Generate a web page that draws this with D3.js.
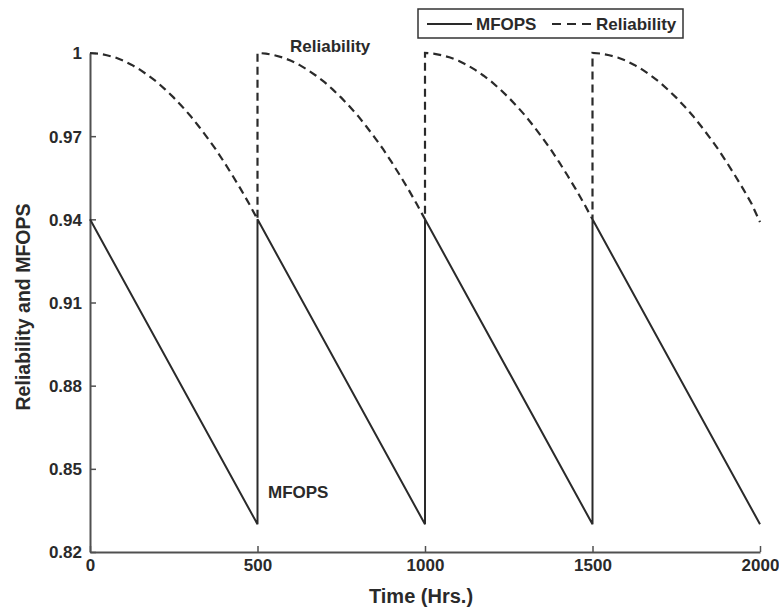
<!DOCTYPE html>
<html>
<head>
<meta charset="utf-8">
<script src="https://cdn.jsdelivr.net/npm/d3@7"></script>
<style>
  html, body { margin: 0; padding: 0; background: #fff; }
  svg { display: block; font-family: "Liberation Sans", Arial, sans-serif; }
</style>
</head>
<body>
<svg id="chart" width="779" height="609"></svg>
<script>
// ---- data ----
const xTicks = [0, 500, 1000, 1500, 2000];
const yTicks = [0.82, 0.85, 0.88, 0.91, 0.94, 0.97, 1];
const yTickLabels = ["0.82", "0.85", "0.88", "0.91", "0.94", "0.97", "1"];

const reliabilityHours = [
  0,25,50,75,100,125,150,175,200,225,250,275,300,325,350,375,400,425,450,475,500,
  500,525,550,575,600,625,650,675,700,725,750,775,800,825,850,875,900,925,950,975,1000,
  1000,1025,1050,1075,1100,1125,1150,1175,1200,1225,1250,1275,1300,1325,1350,1375,1400,1425,1450,1475,1500,
  1500,1525,1550,1575,1600,1625,1650,1675,1700,1725,1750,1775,1800,1825,1850,1875,1900,1925,1950,1975,2000
];
const reliabilityValues = [
  1.0000,0.9998,0.9992,0.9984,0.9972,0.9957,0.9939,0.9918,0.9895,0.9868,0.9839,0.9807,0.9773,0.9735,0.9695,0.9653,0.9607,0.9559,0.9509,0.9456,0.9400,
  1.0000,0.9998,0.9992,0.9984,0.9972,0.9957,0.9939,0.9918,0.9895,0.9868,0.9839,0.9807,0.9773,0.9735,0.9695,0.9653,0.9607,0.9559,0.9509,0.9456,0.9400,
  1.0000,0.9998,0.9992,0.9984,0.9972,0.9957,0.9939,0.9918,0.9895,0.9868,0.9839,0.9807,0.9773,0.9735,0.9695,0.9653,0.9607,0.9559,0.9509,0.9456,0.9400,
  1.0000,0.9998,0.9992,0.9984,0.9972,0.9957,0.9939,0.9918,0.9895,0.9868,0.9839,0.9807,0.9773,0.9735,0.9695,0.9653,0.9607,0.9559,0.9509,0.9456,0.9390
];

const mfopsHours  = [0, 500, 500, 1000, 1000, 1500, 1500, 2000];
const mfopsValues = [0.94, 0.83, 0.94, 0.83, 0.94, 0.83, 0.94, 0.83];

const seriesNames = ["MFOPS", "Reliability"];

// ---- layout ----
const svg = d3.select("#chart");
const x = d3.scaleLinear().domain([0, 2000]).range([90, 760]);
const y = d3.scaleLinear().domain([0.82, 1]).range([552, 53]);
const ink = "#2a2a2a";

// axes (left and bottom only, inward ticks)
const gx = svg.append("g").attr("transform", `translate(0,${y(0.82)})`)
  .call(d3.axisBottom(x).tickValues(xTicks).tickFormat(d3.format("d"))
    .tickSizeInner(-6).tickSizeOuter(0).tickPadding(7));
const gy = svg.append("g").attr("transform", `translate(${x(0)},0)`)
  .call(d3.axisLeft(y).tickValues(yTicks).tickFormat((d, i) => yTickLabels[i])
    .tickSizeInner(-6).tickSizeOuter(0).tickPadding(8));

[gx, gy].forEach(g => {
  g.select(".domain").attr("stroke", "#505050").attr("stroke-width", 2);
  g.selectAll(".tick line").attr("stroke", "#505050").attr("stroke-width", 1.5);
  g.selectAll(".tick text").attr("fill", ink).attr("font-size", 17).attr("font-weight", "bold")
    .attr("font-family", "'Liberation Sans', Arial, sans-serif");
});
gy.selectAll(".tick text").attr("dy", "0.35em");

// series
const line = d3.line().x(d => x(d[0])).y(d => y(d[1]));
const relData = reliabilityHours.map((h, i) => [h, reliabilityValues[i]]);
const mfData = mfopsHours.map((h, i) => [h, mfopsValues[i]]);

svg.append("path").datum(mfData).attr("d", line)
  .attr("fill", "none").attr("stroke", ink).attr("stroke-width", 2);
svg.append("path").datum(relData).attr("d", line)
  .attr("fill", "none").attr("stroke", ink).attr("stroke-width", 2.2)
  .attr("stroke-dasharray", "8,5");

// axis titles
svg.append("text").attr("x", 421).attr("y", 603).attr("text-anchor", "middle")
  .attr("font-size", 20).attr("font-weight", "bold").attr("fill", ink).text("Time (Hrs.)");
svg.append("text").attr("transform", "translate(30,307) rotate(-90)").attr("text-anchor", "middle")
  .attr("font-size", 19.5).attr("font-weight", "bold").attr("fill", ink).text("Reliability and MFOPS");

// annotations
svg.append("text").attr("x", 290).attr("y", 52).attr("font-size", 17).attr("font-weight", "bold")
  .attr("fill", ink).text("Reliability");
svg.append("text").attr("x", 268).attr("y", 498).attr("font-size", 17).attr("font-weight", "bold")
  .attr("fill", ink).text("MFOPS");

// legend
const lg = svg.append("g");
lg.append("rect").attr("x", 418).attr("y", 9).attr("width", 265).attr("height", 29)
  .attr("fill", "#fff").attr("stroke", "#333").attr("stroke-width", 1.5);
lg.append("line").attr("x1", 427).attr("x2", 472).attr("y1", 24).attr("y2", 24)
  .attr("stroke", ink).attr("stroke-width", 2);
lg.append("text").attr("x", 476).attr("y", 30).attr("font-size", 17).attr("font-weight", "bold")
  .attr("fill", ink).text(seriesNames[0]);
lg.append("line").attr("x1", 552).attr("x2", 592).attr("y1", 24).attr("y2", 24)
  .attr("stroke", ink).attr("stroke-width", 2.2).attr("stroke-dasharray", "9,6");
lg.append("text").attr("x", 596).attr("y", 30).attr("font-size", 17).attr("font-weight", "bold")
  .attr("fill", ink).text(seriesNames[1]);
</script>
</body>
</html>
